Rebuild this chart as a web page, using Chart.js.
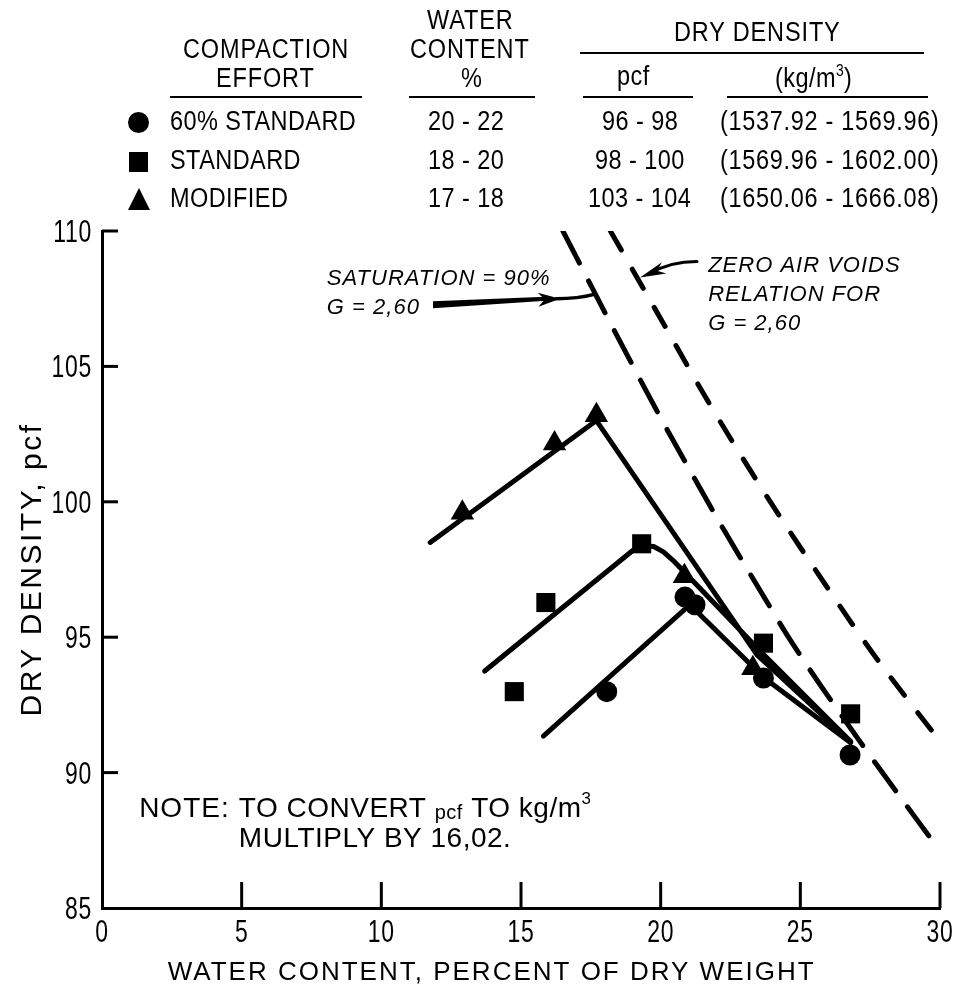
<!DOCTYPE html>
<html>
<head>
<meta charset="utf-8">
<script src="https://cdn.jsdelivr.net/npm/chart.js@4.4.1/dist/chart.umd.min.js"></script>
<style>
  html, body { margin: 0; padding: 0; background: #fff; }
  #wrap { position: relative; width: 960px; height: 987px; }
  #chart { position: absolute; left: 0; top: 0; }
  #table { position: absolute; left: 0; top: 0; width: 960px; height: 225px; color: #000;
           font-family: 'Liberation Sans', Arial, sans-serif; }
  #table > span { position: absolute; white-space: nowrap; transform: scaleX(0.87); transform-origin: 0 50%; }
  #table .rule { position: absolute; height: 0; border-top: 2.5px solid #000; }
  #table .mk { position: absolute; background: #000; }
</style>
</head>
<body>
<div id="wrap">
  <canvas id="chart" width="960" height="987"></canvas>
  <div id="table"></div>
</div>
<script>
    // legend table
    const efforts = ['60% STANDARD', 'STANDARD', 'MODIFIED'];
    const waterRanges = ['20 - 22', '18 - 20', '17 - 18'];
    const pcfRanges = ['96 - 98', '98 - 100', '103 - 104'];
    const kgRanges = ['(1537.92 - 1569.96)', '(1569.96 - 1602.00)', '(1650.06 - 1666.08)'];

    // measured points (water content %, dry density pcf)
    const s60PtW = [18.07, 20.87, 21.23, 23.68, 26.78];
    const s60PtD = [92.99, 96.48, 96.2, 93.49, 90.65];
    const stdPtW = [14.76, 15.89, 19.32, 23.68, 26.8];
    const stdPtD = [92.99, 96.28, 98.45, 94.78, 92.17];
    const modPtW = [12.9, 16.2, 17.7, 20.85, 23.3];
    const modPtD = [99.6, 102.15, 103.2, 97.25, 93.85];

    // fitted curves
    const s60CurveW = [15.8, 21.05, 23.7, 26.8];
    const s60CurveD = [91.35, 96.2, 93.5, 91.1];
    const stdCurveW = [13.7, 19.0, 19.35, 19.75, 20.1, 20.5, 20.9, 23.55, 26.8];
    const stdCurveD = [93.75, 98.2, 98.38, 98.35, 98.15, 97.78, 97.35, 94.5, 91.15];
    const modCurveW = [11.75, 17.7, 23.45, 26.8];
    const modCurveD = [98.5, 103.0, 94.35, 91.15];

    // saturation 90% and zero air voids lines
    const satW = [16.5, 18.1, 20.0, 21.3, 22.3, 23.4, 24.7, 27.1, 30.0];
    const satD = [110.0, 106.8, 103.1, 100.7, 98.9, 97.0, 94.8, 91.2, 87.1];
    const zavW = [18.2, 20.2, 21.7, 23.8, 25.4, 27.6, 30.0];
    const zavD = [110.0, 106.4, 103.7, 100.2, 97.7, 94.4, 91.15];

    const xTicks = [0, 5, 10, 15, 20, 25, 30];
    const yTicks = [85, 90, 95, 100, 105, 110];

    const TEXT_FONT = "'Liberation Sans', Arial, sans-serif";

    // ---- table (html text) ----
    const tbl = document.getElementById('table');
    const SQUEEZE = 0.87;
    function put(html, x, base, align = 'center', size = 27, spacing = 0.5) {
        const s = document.createElement('span');
        s.innerHTML = html;
        s.style.fontSize = size + 'px';
        s.style.lineHeight = size + 'px';
        s.style.letterSpacing = spacing + 'px';
        s.style.top = (base - size * 0.8465) + 'px';
        tbl.appendChild(s);
        const w = s.offsetWidth * SQUEEZE;
        s.style.left = (align === 'center' ? x - w / 2 : x) + 'px';
    }
    function rule(x1, x2, y) {
        const d = document.createElement('div');
        d.className = 'rule';
        d.style.left = x1 + 'px'; d.style.width = (x2 - x1) + 'px'; d.style.top = y + 'px';
        tbl.appendChild(d);
    }
    function marker(kind, base) {
        const d = document.createElement('div');
        d.className = 'mk';
        if (kind === 0) { Object.assign(d.style, { left: '128px', top: (base - 19) + 'px', width: '21px', height: '21px', borderRadius: '50%' }); }
        else if (kind === 1) { Object.assign(d.style, { left: '129px', top: (base - 18) + 'px', width: '19px', height: '20px' }); }
        else { Object.assign(d.style, { left: '128px', top: (base - 20) + 'px', width: '0', height: '0', background: 'none',
            borderLeft: '11px solid transparent', borderRight: '11px solid transparent', borderBottom: '22px solid #000' }); }
        tbl.appendChild(d);
    }

    put('COMPACTION', 266, 59, 'center', 27, 1);
    put('EFFORT', 266, 88, 'center', 27, 1);
    rule(170, 362, 96);
    put('WATER', 470, 30, 'center', 27, 1);
    put('CONTENT', 470, 59, 'center', 27, 1);
    put('%', 472, 88);
    rule(409, 535, 96);
    put('DRY DENSITY', 758, 42, 'center', 27, 1);
    rule(580, 924, 52);
    put('pcf', 634, 86);
    rule(583, 693, 96);
    put('(kg/m<sup style="font-size:16px;line-height:0;vertical-align:11px">3</sup>)', 814, 88);
    rule(727, 928, 96);
    const rowBase = [131, 170, 208];
    efforts.forEach((e, i) => {
        marker(i, rowBase[i]);
        put(e, 170, rowBase[i], 'left');
        put(waterRanges[i], 466, rowBase[i]);
        put(pcfRanges[i], 640, rowBase[i]);
        put(kgRanges[i], 720, rowBase[i], 'left', 27, 0.8);
    });

    // ---- annotations ----
    const labels = [
        { text: 'SATURATION = 90%', w: 8.05, d: 108.0 },
        { text: 'G = 2,60', w: 8.05, d: 106.95 },
        { text: 'ZERO AIR VOIDS', w: 21.7, d: 108.5 },
        { text: 'RELATION FOR', w: 21.7, d: 107.4 },
        { text: 'G = 2,60', w: 21.7, d: 106.35 }
    ];

    function arrowHead(ctx, tx, ty, fx, fy, len, half) {
        const a = Math.atan2(ty - fy, tx - fx);
        const bx = tx - Math.cos(a) * len, by = ty - Math.sin(a) * len;
        ctx.beginPath();
        ctx.moveTo(tx, ty);
        ctx.lineTo(bx + Math.sin(a) * half, by - Math.cos(a) * half);
        ctx.lineTo(tx - Math.cos(a) * len * 0.7, ty - Math.sin(a) * len * 0.7);
        ctx.lineTo(bx - Math.sin(a) * half, by + Math.cos(a) * half);
        ctx.closePath();
        ctx.fill();
    }

    function say(ctx, str, px, py, font, spacing = '0px', align = 'left', squeeze = 1) {
        ctx.save();
        ctx.font = font;
        ctx.letterSpacing = spacing;
        ctx.textAlign = align;
        ctx.textBaseline = 'alphabetic';
        ctx.translate(px, py);
        ctx.scale(squeeze, 1);
        ctx.fillText(str, 0, 0);
        const w = ctx.measureText(str).width * squeeze;
        ctx.restore();
        return w;
    }

    const paperPlugin = {
        id: 'paper',
        afterDraw(chart) {
            const { ctx, chartArea: a, scales: { x, y } } = chart;
            ctx.save();
            ctx.strokeStyle = '#000';
            ctx.fillStyle = '#000';

            // ticks pointing inwards, condensed tick labels
            ctx.lineWidth = 3;
            x.ticks.forEach(t => {
                const px = x.getPixelForValue(t.value);
                if (t.value !== x.min) {
                    ctx.beginPath(); ctx.moveTo(px, a.bottom); ctx.lineTo(px, a.bottom - 26); ctx.stroke();
                }
                say(ctx, String(t.value), px, a.bottom + 34, `31px ${TEXT_FONT}`, '1px', 'center', 0.74);
            });
            y.ticks.forEach(t => {
                const py = y.getPixelForValue(t.value);
                if (t.value !== y.min) {
                    ctx.beginPath(); ctx.moveTo(a.left, py); ctx.lineTo(a.left + 16, py); ctx.stroke();
                }
                say(ctx, String(t.value), a.left - 10, py + 11, `31px ${TEXT_FONT}`, '1px', 'right', 0.74);
            });

            // axis titles
            say(ctx, 'WATER CONTENT, PERCENT OF DRY WEIGHT', x.getPixelForValue(13.95), a.bottom + 72,
                `26px ${TEXT_FONT}`, '2px', 'center');
            ctx.save();
            ctx.translate(30, y.getPixelForValue(97.5));
            ctx.rotate(-Math.PI / 2);
            say(ctx, 'DRY DENSITY, pcf', 0, 11, `30px ${TEXT_FONT}`, '2.5px', 'center');
            ctx.restore();

            // italic labels
            labels.forEach(l => say(ctx, l.text, x.getPixelForValue(l.w), y.getPixelForValue(l.d),
                `italic 22px ${TEXT_FONT}`, '1px'));

            // arrow to saturation line
            const t1x = x.getPixelForValue(11.85), t1y = y.getPixelForValue(107.28);
            const h1x = x.getPixelForValue(16.4), h1y = y.getPixelForValue(107.5);
            const e1x = x.getPixelForValue(17.62), e1y = y.getPixelForValue(107.66);
            ctx.beginPath();
            ctx.moveTo(t1x, t1y - 3.5);
            ctx.lineTo(h1x - 14, h1y - 2);
            ctx.lineTo(h1x - 14, h1y + 2);
            ctx.lineTo(t1x, t1y + 3.5);
            ctx.closePath();
            ctx.fill();
            arrowHead(ctx, h1x, h1y, t1x, t1y, 22, 7);
            ctx.lineWidth = 3.5;
            ctx.lineCap = 'round';
            ctx.beginPath(); ctx.moveTo(h1x - 4, h1y); ctx.quadraticCurveTo(h1x + 18, h1y, e1x, e1y); ctx.stroke();

            // arrow to zero air voids line
            const t2x = x.getPixelForValue(21.3), t2y = y.getPixelForValue(108.87);
            const h2x = x.getPixelForValue(19.26), h2y = y.getPixelForValue(108.28);
            ctx.lineWidth = 3;
            ctx.beginPath(); ctx.moveTo(t2x, t2y); ctx.quadraticCurveTo(h2x + 30, t2y, h2x + 10, h2y - 4); ctx.stroke();
            arrowHead(ctx, h2x, h2y, h2x + 30, h2y - 12, 26, 6);

            // note
            const nx = x.getPixelForValue(1.33), tx = x.getPixelForValue(4.9);
            const n1 = y.getPixelForValue(88.36), n2 = y.getPixelForValue(87.25);
            say(ctx, 'NOTE:', nx, n1, `28px ${TEXT_FONT}`, '1px');
            let cx = tx;
            cx += say(ctx, 'TO CONVERT ', cx, n1, `28px ${TEXT_FONT}`, '0.5px');
            cx += say(ctx, 'pcf', cx, n1 + 2, `20px ${TEXT_FONT}`, '0.5px');
            cx += say(ctx, ' TO kg/m', cx, n1, `28px ${TEXT_FONT}`, '0.5px');
            say(ctx, '3', cx, n1 - 13, `17px ${TEXT_FONT}`);
            say(ctx, 'MULTIPLY BY 16,02.', tx, n2, `28px ${TEXT_FONT}`, '0.5px');
            ctx.restore();
        }
    };

    const pts = (ws, ds) => ws.map((w, i) => ({ x: w, y: ds[i] }));
    const marks = { backgroundColor: '#000', borderColor: '#000', borderWidth: 0, showLine: false };
    const solid = { borderColor: '#000', borderWidth: 5, showLine: true, pointRadius: 0,
                    borderCapStyle: 'round', borderJoinStyle: 'round', tension: 0 };
    const dashed = { borderColor: '#000', borderWidth: 5, showLine: true, pointRadius: 0,
                     borderCapStyle: 'round', cubicInterpolationMode: 'monotone' };

    Chart.defaults.color = '#000';

    new Chart(document.getElementById('chart'), {
        type: 'scatter',
        data: {
            datasets: [
                { ...marks, label: '60% STANDARD', data: pts(s60PtW, s60PtD), pointStyle: 'circle', pointRadius: 10.5 },
                { ...marks, label: 'STANDARD', data: pts(stdPtW, stdPtD), pointStyle: 'rect', pointRadius: 13.5 },
                { ...marks, label: 'MODIFIED', data: pts(modPtW, modPtD), pointStyle: 'triangle', pointRadius: 13.5 },
                { ...solid, label: '60% curve', data: pts(s60CurveW, s60CurveD) },
                { ...solid, label: 'standard curve', data: pts(stdCurveW, stdCurveD) },
                { ...solid, label: 'modified curve', data: pts(modCurveW, modCurveD) },
                { ...dashed, label: 'saturation 90%', data: pts(satW, satD), borderDash: [36, 20] },
                { ...dashed, label: 'zero air voids', data: pts(zavW, zavD), borderDash: [22, 22] }
            ]
        },
        options: {
            responsive: false,
            animation: false,
            events: [],
            layout: { padding: { top: 231, right: 20, left: 0, bottom: 0 } },
            plugins: { legend: { display: false }, tooltip: { enabled: false } },
            scales: {
                x: {
                    type: 'linear', min: 0, max: 30,
                    afterBuildTicks: s => { s.ticks = xTicks.map(v => ({ value: v })); },
                    ticks: { display: false },
                    grid: { display: false, drawTicks: false },
                    border: { display: true, color: '#000', width: 3 },
                    afterFit: s => { s.height = 79; }
                },
                y: {
                    type: 'linear', min: 85, max: 110,
                    afterBuildTicks: s => { s.ticks = yTicks.map(v => ({ value: v })); },
                    ticks: { display: false },
                    grid: { display: false, drawTicks: false },
                    border: { display: true, color: '#000', width: 3 },
                    afterFit: s => { s.width = 102; }
                }
            }
        },
        plugins: [paperPlugin]
    });
</script>
</body>
</html>
